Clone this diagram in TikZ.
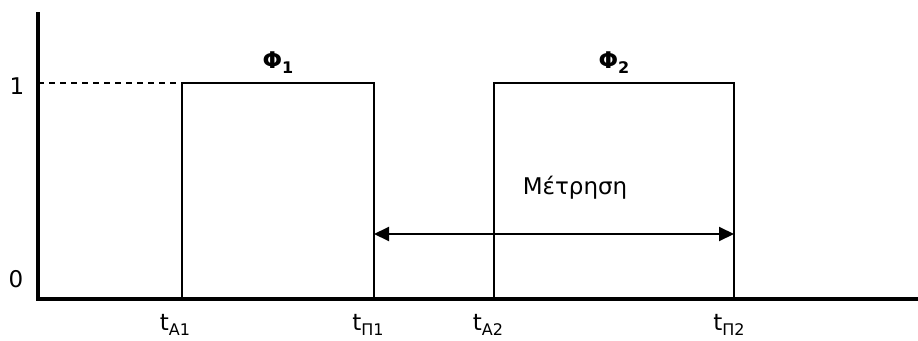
\documentclass[tikz,border=0pt]{standalone}
\usepackage{fontspec}
\setmainfont{DejaVu Sans}
\usetikzlibrary{arrows.meta}
\newcommand\mysub[1]{\raisebox{-5pt}{\fontsize{16}{18}\selectfont #1}}
\begin{document}
\begin{tikzpicture}[x=1pt,y=-1pt,
  axis/.style={line width=4pt},
  sig/.style={line width=2pt},
  lbl/.style={font=\fontsize{23}{26}\selectfont, inner sep=0pt},
  dim/.style={line width=2pt, {Triangle[length=15pt,width=14pt]}-{Triangle[length=15pt,width=14pt]}}
]
\useasboundingbox (0,0) rectangle (918,340);
% axes
\coordinate (O) at (38,299);
\coordinate (ytop) at (38,12);
\coordinate (xend) at (918,299);
\coordinate (y1) at (38,83);
% pulse corners
\coordinate (A1b) at (182,299);
\coordinate (A1t) at (182,83);
\coordinate (P1t) at (374,83);
\coordinate (P1b) at (374,299);
\coordinate (A2b) at (494,299);
\coordinate (A2t) at (494,83);
\coordinate (P2t) at (734,83);
\coordinate (P2b) at (734,299);
\coordinate (m1) at (374,234);
\coordinate (m2) at (734,234);

\draw[sig] (A1b) -- (A1t) -- (P1t) -- (P1b);
\draw[sig] (A2b) -- (A2t) -- (P2t) -- (P2b);
\draw[sig, dash pattern=on 6pt off 5pt] (y1) -- (A1t);
\draw[dim] (m1) -- (m2);
\draw[axis, line join=miter] (ytop) -- (O) -- (xend);

% labels
\node[lbl] (one) at (17,86) {1};
\node[lbl] (zero) at (16,279) {0};
\node[lbl, font=\fontsize{23}{26}\selectfont\bfseries] (phi1) at (278,63) {Φ\mysub{1}};
\node[lbl, font=\fontsize{23}{26}\selectfont\bfseries] (phi2) at (614,63) {Φ\mysub{2}};
\node[lbl, anchor=base] (meas) at (575,194) {Μέτρηση};
\node[lbl, anchor=base] (tA1) at (175,330) {t\mysub{A1}};
\node[lbl, anchor=base] (tP1) at (368,330) {t\mysub{Π1}};
\node[lbl, anchor=base] (tA2) at (488,330) {t\mysub{A2}};
\node[lbl, anchor=base] (tP2) at (729,330) {t\mysub{Π2}};
\end{tikzpicture}
\end{document}
